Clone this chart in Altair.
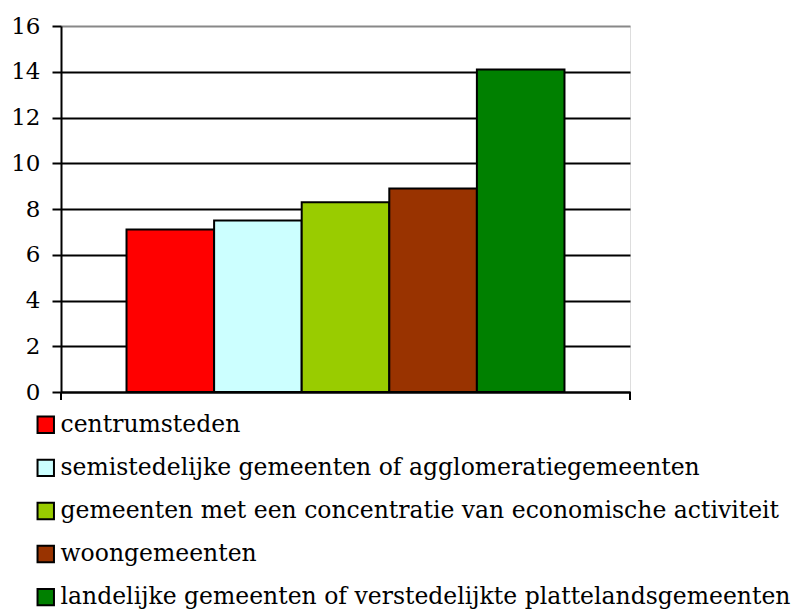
import altair as alt
import pandas as pd

categories = [
    "centrumsteden",
    "semistedelijke gemeenten of agglomeratiegemeenten",
    "gemeenten met een concentratie van economische activiteit",
    "woongemeenten",
    "landelijke gemeenten of verstedelijkte plattelandsgemeenten",
]
values = [7.1, 7.5, 8.3, 8.9, 14.1]
colors = ["#FF0000", "#CCFFFF", "#99CC00", "#993300", "#008000"]
y_ticks = [0, 2, 4, 6, 8, 10, 12, 14, 16]

df = pd.DataFrame({"cat": categories, "val": values})

W, H = 569, 366
FONT = "DejaVu Serif"

bars = alt.Chart(df).mark_bar(stroke="black", strokeWidth=2).encode(
    x=alt.X("cat:N", sort=categories,
            scale=alt.Scale(paddingInner=0, paddingOuter=0.748),
            axis=alt.Axis(title=None, labels=False, ticks=False, domain=True,
                          domainColor="black", domainWidth=2)),
    y=alt.Y("val:Q", scale=alt.Scale(domain=[0, 16], nice=False),
            axis=alt.Axis(title=None, values=y_ticks, labelOverlap=False,
                          labelFont=FONT, labelFontSize=23, labelColor="black",
                          labelPadding=12, tickSize=9, tickWidth=2, tickColor="black",
                          domainColor="black", domainWidth=2,
                          grid=True, gridWidth=2,
                          gridColor={"condition": {"test": "datum.value == 16", "value": "#888888"}, "value": "black"})),
    color=alt.Color("cat:N", sort=categories,
                    scale=alt.Scale(domain=categories, range=colors),
                    legend=alt.Legend(title=None, orient="none", legendX=-27, legendY=387,
                                      direction="vertical",
                                      symbolType="square", symbolSize=270,
                                      symbolStrokeColor="black", symbolStrokeWidth=2,
                                      symbolOpacity=1,
                                      labelFont=FONT, labelFontSize=23.5, labelColor="black",
                                      labelLimit=900, labelOffset=3, rowPadding=18.1)),
)

edge_ticks = alt.Chart(pd.DataFrame({"k": [0]})).mark_rule(color="black", strokeWidth=2).encode(
    x=alt.value(0), y=alt.value(H), y2=alt.value(H + 8)
)
edge_ticks2 = alt.Chart(pd.DataFrame({"k": [0]})).mark_rule(color="black", strokeWidth=2).encode(
    x=alt.value(W), y=alt.value(H), y2=alt.value(H + 8)
)

chart = alt.layer(bars, edge_ticks, edge_ticks2).properties(
    width=W, height=H,
    autosize=alt.AutoSizeParams(type="none"),
    padding={"left": 53, "top": 18, "right": 168, "bottom": 217},
).configure_view(stroke="#888888", strokeWidth=2).configure(background="white")

chart.save("out.html", embed_options={"renderer": "svg", "actions": False})
